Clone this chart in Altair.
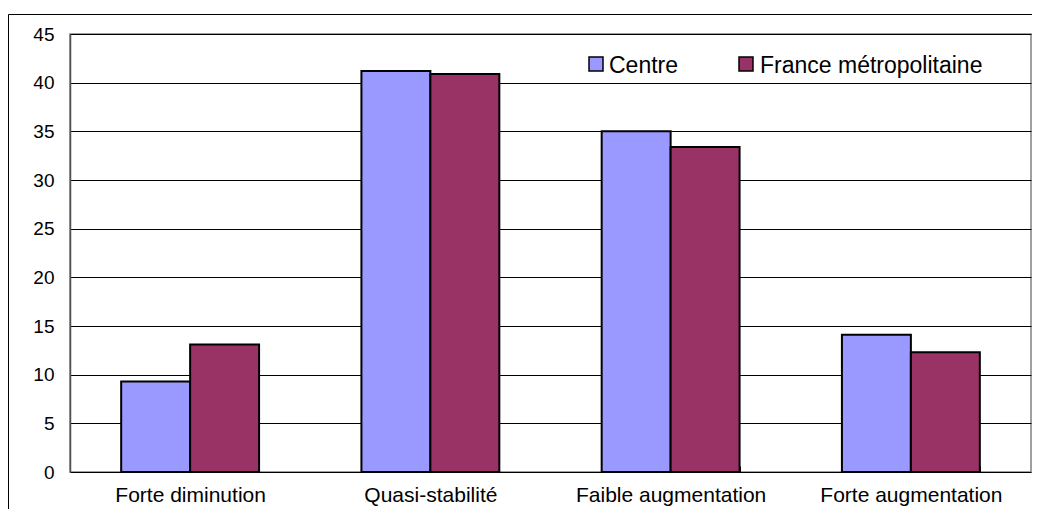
import altair as alt
import pandas as pd

categories = ["Forte diminution", "Quasi-stabilité", "Faible augmentation", "Forte augmentation"]
series = ["Centre", "France métropolitaine"]
centre = [9.3, 41.2, 35.0, 14.1]
france = [13.1, 40.9, 33.4, 12.3]
colors = ["#9999FF", "#993366"]
y_ticks = [0, 5, 10, 15, 20, 25, 30, 35, 40, 45]

rows = []
for c, a, b in zip(categories, centre, france):
    rows.append({"cat": c, "series": series[0], "value": a})
    rows.append({"cat": c, "series": series[1], "value": b})
df = pd.DataFrame(rows)

FONT = "Liberation Sans, Arial, sans-serif"
W, H = 961, 438

bars = alt.Chart(df).mark_bar(stroke="black", strokeWidth=2).encode(
    x=alt.X("cat:N", sort=categories, title=None,
            scale=alt.Scale(paddingInner=0.426, paddingOuter=0.213),
            axis=alt.Axis(labelAngle=0, labelFontSize=21, labelFont=FONT, labelColor="black",
                          labelLimit=0, domain=False, ticks=True, tickSize=6, tickColor="black",
                          tickBand="extent", offset=-6, labelPadding=12, grid=False)),
    xOffset=alt.XOffset("series:N", sort=series, scale=alt.Scale(paddingInner=0, paddingOuter=0)),
    y=alt.Y("value:Q", title=None,
            scale=alt.Scale(domain=[0, 45], nice=False),
            axis=alt.Axis(values=y_ticks, labelFontSize=19, labelFont=FONT, labelColor="black",
                          ticks=False, labelPadding=16, domainColor="#505050", domainWidth=1.5,
                          grid=True, gridColor="black", gridWidth=1)),
    color=alt.Color("series:N", sort=series, legend=None,
                    scale=alt.Scale(domain=series, range=colors)),
)

one = pd.DataFrame({"k": [0]})

frame = alt.Chart(one).mark_rect(fill=None, stroke="black", strokeWidth=1).encode(
    x=alt.value(-61.5), x2=alt.value(3000), y=alt.value(-19.5), y2=alt.value(3000)
)

legend_box = alt.Chart(one).mark_rect(fill="white", stroke=None).encode(
    x=alt.value(487), x2=alt.value(945), y=alt.value(1), y2=alt.value(48.5)
)

sym_x = [526, 676]
txt_x = [539, 690]
legend_layers = []
for i, s in enumerate(series):
    d = pd.DataFrame({"s": [s]})
    legend_layers.append(
        alt.Chart(d).mark_square(size=196, fill=colors[i], stroke="black", strokeWidth=1.5, opacity=1).encode(
            x=alt.value(sym_x[i]), y=alt.value(30)
        )
    )
    legend_layers.append(
        alt.Chart(d).mark_text(align="left", baseline="alphabetic", fontSize=23, font=FONT, color="black").encode(
            x=alt.value(txt_x[i]), y=alt.value(38.5), text="s:N"
        )
    )

chart = alt.layer(frame, bars, legend_box, *legend_layers).properties(
    width=W, height=H,
    autosize=alt.AutoSizeParams(type="none"),
    padding={"left": 62, "top": 26, "right": 1, "bottom": 37},
    background="white",
).configure_view(stroke="#808080", strokeWidth=1.5)

chart.save("out.html", embed_options={"renderer": "svg", "actions": False})
